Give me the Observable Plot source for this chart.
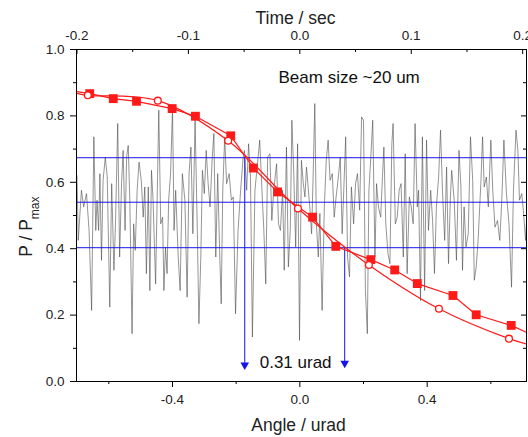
<!DOCTYPE html>
<html>
<head>
<meta charset="utf-8">
<script src="https://cdn.jsdelivr.net/npm/d3@7"></script>
<script src="https://cdn.jsdelivr.net/npm/@observablehq/plot@0.6"></script>
<style>
  html, body { margin: 0; padding: 0; background: #fff; }
</style>
</head>
<body>
<div id="chart"></div>
<script>
// ---- data ----
const secToUrad = 3.5; // top axis: Time / sec, bottom axis: Angle / urad

const timeMajor = [-0.2, -0.1, 0.0, 0.1, 0.2];
const timeMinor = [-0.15, -0.05, 0.05, 0.15];
const angleMajor = [-0.4, 0.0, 0.4];
const angleMinor = [-0.6, -0.2, 0.2, 0.6];
const pMajor = [0, 0.2, 0.4, 0.6, 0.8, 1.0];
const pMinor = [0.1, 0.3, 0.5, 0.7, 0.9];

// black noisy trace
const traceAngle = [
-0.700,-0.696,-0.686,-0.679,-0.670,-0.662,-0.654,-0.647,-0.641,-0.637,-0.632,-0.628,-0.623,-0.618,-0.611,-0.605,-0.597,-0.591,-0.584,-0.579,-0.572,-0.566,-0.560,-0.555,-0.549,-0.544,-0.539,-0.534,-0.527,-0.522,-0.517,-0.511,-0.505,-0.498,-0.492,-0.487,-0.482,-0.476,-0.471,-0.466,
-0.461,-0.453,-0.443,-0.437,-0.431,-0.427,-0.422,-0.417,-0.412,-0.406,-0.400,-0.395,-0.390,-0.382,-0.376,-0.369,-0.361,-0.354,-0.348,-0.342,-0.336,-0.329,-0.322,-0.317,-0.311,-0.306,-0.300,-0.294,-0.288,-0.282,-0.275,-0.270,-0.264,-0.258,-0.252,-0.247,-0.242,-0.236,
-0.230,-0.222,-0.215,-0.209,-0.202,-0.194,-0.186,-0.178,-0.174,-0.167,-0.161,-0.155,-0.149,-0.141,-0.134,-0.126,-0.119,-0.113,-0.107,-0.101,-0.094,-0.088,-0.082,-0.073,-0.067,-0.061,-0.054,-0.049,-0.042,-0.036,-0.030,-0.025,-0.019,-0.013,-0.007,-0.001,0.005,
0.011,0.016,0.021,0.026,0.032,0.037,0.042,0.047,0.052,0.058,0.063,0.070,0.077,0.083,0.089,0.095,0.102,0.108,0.114,0.121,0.127,0.133,0.138,0.144,0.150,0.156,0.162,0.169,0.175,0.181,0.188,0.194,0.200,0.206,0.212,0.217,0.223,0.229,0.236,
0.241,0.247,0.254,0.260,0.264,0.270,0.277,0.283,0.289,0.293,0.300,0.306,0.312,0.318,0.325,0.331,0.337,0.344,0.350,0.356,0.362,0.369,0.373,0.379,0.385,0.392,0.398,0.404,0.411,0.417,0.423,0.429,0.436,0.442,0.448,0.455,0.461,0.467,0.473,
0.477,0.485,0.492,0.500,0.506,0.511,0.516,0.522,0.529,0.536,0.543,0.548,0.554,0.560,0.569,0.574,0.579,0.586,0.592,0.600,0.606,0.613,0.621,0.628,0.634,0.641,0.649,0.657,0.665,0.671,0.679,0.685,0.690,0.697,0.703,0.709,0.715];
const traceP = [
0.62,0.425,0.576,0.526,0.566,0.455,0.214,0.737,0.455,0.546,0.455,0.626,0.365,0.606,0.676,0.616,0.224,0.596,0.335,0.475,0.777,0.375,0.596,0.696,0.455,0.676,0.711,0.546,0.144,0.475,0.395,0.576,0.661,0.606,0.495,0.586,0.325,0.586,0.274,0.636,
0.546,0.294,0.817,0.475,0.495,0.274,0.405,0.325,0.546,0.626,0.822,0.455,0.576,0.375,0.274,0.626,0.546,0.254,0.626,0.706,0.445,0.787,0.455,0.174,0.375,0.636,0.566,0.696,0.596,0.526,0.676,0.747,0.375,0.626,0.395,0.234,0.576,0.737,
0.596,0.626,0.546,0.556,0.204,0.455,0.576,0.676,0.696,0.576,0.716,0.616,0.134,0.576,0.646,0.727,0.576,0.455,0.294,0.676,0.686,0.485,0.576,0.656,0.475,0.455,0.576,0.335,0.706,0.345,0.455,0.787,0.626,0.405,0.716,0.124,0.666,
0.596,0.556,0.646,0.586,0.516,0.445,0.626,0.837,0.475,0.375,0.506,0.214,0.526,0.666,0.727,0.606,0.626,0.495,0.556,0.616,0.676,0.445,0.576,0.737,0.375,0.315,0.586,0.475,0.596,0.626,0.516,0.797,0.787,0.274,0.144,0.576,0.676,0.787,0.375,
0.596,0.526,0.495,0.626,0.706,0.475,0.385,0.355,0.716,0.777,0.475,0.495,0.576,0.596,0.375,0.686,0.325,0.556,0.526,0.475,0.777,0.526,0.576,0.244,0.737,0.274,0.727,0.455,0.576,0.485,0.325,0.526,0.616,0.757,0.576,0.425,0.646,0.355,0.556,
0.636,0.546,0.365,0.696,0.586,0.335,0.526,0.405,0.445,0.737,0.606,0.305,0.345,0.425,0.606,0.737,0.586,0.616,0.526,0.727,0.576,0.465,0.485,0.425,0.536,0.727,0.566,0.475,0.284,0.576,0.757,0.696,0.546,0.566,0.506,0.425,0.536];

// red filled squares
const sqAngle = [-0.660,-0.586,-0.513,-0.401,-0.328,-0.217,-0.146,-0.070,0.040,0.113,0.223,0.298,0.369,0.481,0.554,0.664];
const sqP     = [0.867,0.852,0.844,0.822,0.799,0.740,0.643,0.571,0.495,0.407,0.367,0.336,0.295,0.259,0.201,0.169];
const sqEdgeAngle = [-0.700, 0.712];
const sqEdgeP     = [0.873, 0.148];

// red open circles
const circAngle = [-0.666,-0.446,-0.225,-0.006,0.217,0.437,0.657];
const circP     = [0.862,0.846,0.725,0.521,0.351,0.219,0.129];
const circEdgeAngle = [-0.700, 0.712];
const circEdgeP     = [0.868, 0.113];

// blue guide lines
const levelP = [0.674, 0.540, 0.403];
const arrowAngle = [-0.173, 0.141];
const arrowFromP = [0.674, 0.403];
const arrowToP   = [0.05, 0.055];

const beamLabel = "Beam size ~20 um";
const widthLabel = "0.31 urad";

// ---- tables ----
const trace = traceAngle.map((a, i) => ({a, p: traceP[i]}));
const squares = sqAngle.map((a, i) => ({a, p: sqP[i]}));
const sqLine = [{a: sqEdgeAngle[0], p: sqEdgeP[0]}, ...squares, {a: sqEdgeAngle[1], p: sqEdgeP[1]}];
const circles = circAngle.map((a, i) => ({a, p: circP[i]}));
const circLine = [{a: circEdgeAngle[0], p: circEdgeP[0]}, ...circles, {a: circEdgeAngle[1], p: circEdgeP[1]}];
const arrows = arrowAngle.map((a, i) => ({a, p1: arrowFromP[i], p2: arrowToP[i]}));

const RED = "#ff1a1a";
const BLUE = "#1414e6";
const FONT = "'Liberation Sans', Arial, sans-serif";
const fmt = d => (+d).toFixed(1);

const H = 437, MT = 49, MB = 56;
const innerH = H - MT - MB;
const W = 528, ML = 76, MR = 2;
const innerW = W - ML - MR;

const chart = Plot.plot({
  width: W, height: H,
  marginLeft: ML, marginRight: MR, marginTop: MT, marginBottom: MB,
  style: {fontFamily: FONT, background: "white", color: "#222", overflow: "visible"},
  x: {domain: [-0.7015, 0.712]},
  y: {domain: [0, 1]},
  marks: [
    Plot.line(trace, {x: "a", y: "p", stroke: "#4a4a4a", strokeWidth: 0.65, strokeOpacity: 0.9, clip: true}),
    Plot.ruleY(levelP, {stroke: BLUE, strokeWidth: 1}),
    Plot.ruleX(arrows, {x: "a", y1: "p1", y2: "p2", stroke: BLUE, strokeWidth: 1}),
    Plot.dot(arrows, {x: "a", y: "p2", symbol: "triangle", rotate: 180, r: 3.2, fill: BLUE, stroke: null}),
    Plot.line(sqLine, {x: "a", y: "p", stroke: RED, strokeWidth: 1.2, clip: true}),
    Plot.line(circLine, {x: "a", y: "p", stroke: RED, strokeWidth: 1.2, curve: "catmull-rom", clip: true}),
    Plot.dot(squares, {x: "a", y: "p", symbol: "square", r: 5, fill: RED, stroke: null}),
    Plot.dot(circles, {x: "a", y: "p", r: 3.4, fill: "white", stroke: RED, strokeWidth: 1.3}),
    Plot.frame({stroke: "black", strokeWidth: 1}),
    // bottom axis (angle)
    Plot.axisX(angleMajor, {anchor: "bottom", tickSize: 6, tickPadding: 7, tickFormat: fmt, fontSize: 13.5, label: null, stroke: "black"}),
    Plot.axisX(angleMinor, {anchor: "bottom", tickSize: 3, tickFormat: () => "", label: null, stroke: "black"}),
    // top axis (time), ticks inward
    Plot.axisX(timeMajor.map(t => t * secToUrad), {anchor: "top", tickSize: 0, tickPadding: 10, tickFormat: d => fmt(d / secToUrad), fontSize: 13.5, label: null}),
    Plot.tickX(timeMajor.map(t => t * secToUrad), {x: d => d, insetBottom: innerH - 5, stroke: "black"}),
    Plot.tickX(timeMinor.map(t => t * secToUrad), {x: d => d, insetBottom: innerH - 3, stroke: "black"}),
    // left axis
    Plot.axisY(pMajor, {anchor: "left", tickSize: 6, tickPadding: 6, tickFormat: fmt, fontSize: 13.5, label: null, stroke: "black"}),
    Plot.axisY(pMinor, {anchor: "left", tickSize: 3, tickFormat: () => "", label: null, stroke: "black"}),
    // right ticks inward
    Plot.tickY(pMajor, {y: d => d, insetLeft: innerW - 5, stroke: "black"}),
    Plot.tickY(pMinor, {y: d => d, insetLeft: innerW - 3, stroke: "black"}),
    // axis titles
    Plot.text(["Angle / urad"], {frameAnchor: "bottom", dy: 49, dx: -3, fontSize: 17.5, fill: "#222"}),
    Plot.text(["Time / sec"], {frameAnchor: "top", dy: -38, dx: -6, fontSize: 17.5, fill: "#222"}),
    // annotations
    Plot.text([beamLabel], {x: -0.067, y: 0.915, textAnchor: "start", fontSize: 17, fill: "#111"}),
    Plot.text([widthLabel], {x: -0.126, y: 0.057, textAnchor: "start", fontSize: 17, fill: "#111"})
  ]
});

// y-axis title with subscript
const svg = d3.select(chart);
const yt = svg.append("text")
  .attr("transform", `translate(32,${MT + innerH * 0.535}) rotate(-90)`)
  .attr("text-anchor", "middle")
  .attr("fill", "#222")
  .style("font-family", FONT)
  .style("font-size", "17.5px");
yt.append("tspan").text("P / P");
yt.append("tspan").attr("baseline-shift", "sub").style("font-size", "12px").text("max");

document.getElementById("chart").appendChild(chart);
</script>
</body>
</html>
